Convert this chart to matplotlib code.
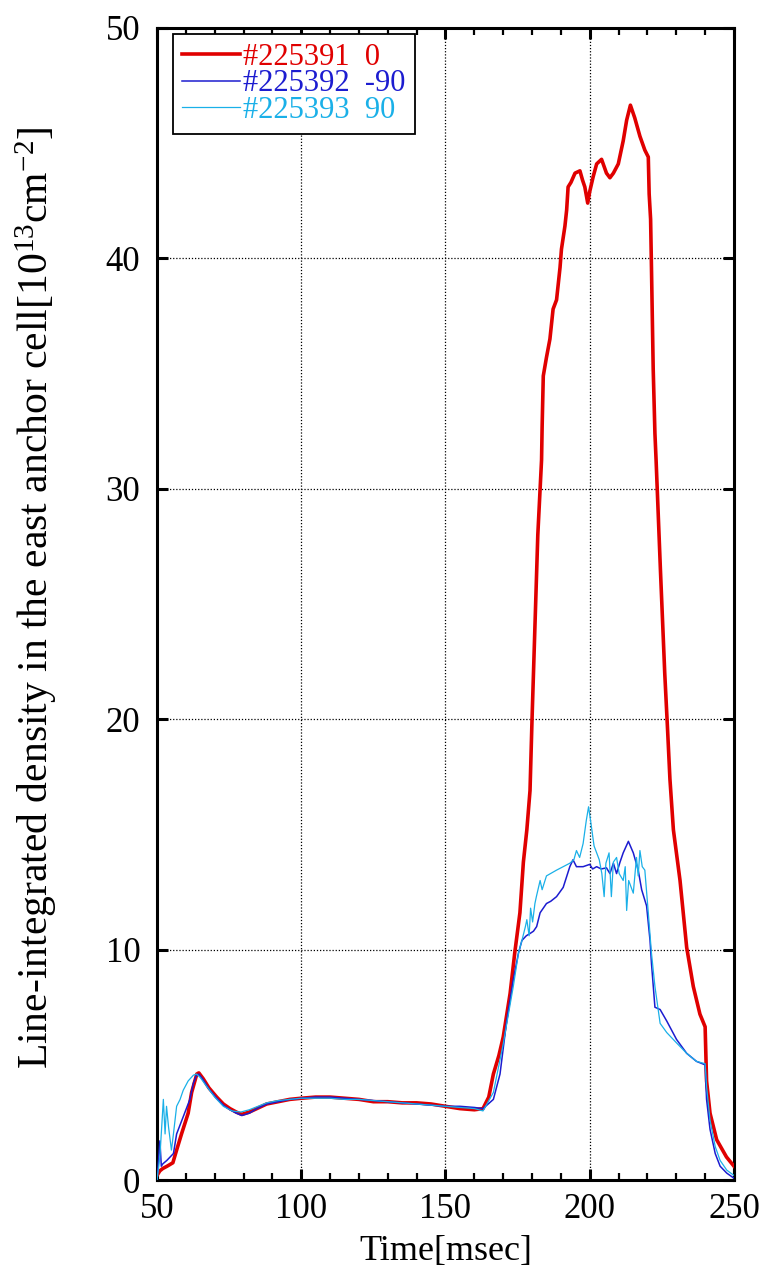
import matplotlib
matplotlib.use("Agg")
import matplotlib.pyplot as plt
from matplotlib.ticker import MultipleLocator

plt.rcParams['font.family'] = ['Liberation Serif', 'DejaVu Serif']
plt.rcParams['mathtext.fontset'] = 'custom'
plt.rcParams['mathtext.rm'] = 'Liberation Serif'
plt.rcParams['mathtext.it'] = 'Liberation Serif:italic'

# shot #225391 (0)
red_t = [50, 51, 52, 53.5, 55.5, 56.8, 58.5, 60.8, 62, 63.8,
         64.5, 66, 68, 70.7, 73, 75.3, 77.5, 79.4, 82, 84.6,
         88, 92, 96, 100, 105, 110, 115, 120, 125, 130,
         135, 140, 145, 150, 155, 160, 163, 165, 166.6, 168.5,
         170, 172.4, 174, 175.8, 177, 178.2, 179.3, 180, 181, 182,
         183.3, 183.5, 183.9, 185, 186.2, 187.3, 188.5, 189.7, 190.2, 191.4,
         192, 192.5, 193.5, 194.9, 196.6, 197.5, 198.3, 199.3, 200, 201.2,
         202.4, 204.1, 205.8, 207, 208.2, 209.9, 211.6, 212.8, 214.1, 215.6,
         217.4, 219.1, 220.3, 220.6, 221.1, 221.4, 222, 222.6, 223, 224.5,
         226, 227, 227.8, 229, 231.3, 233.6, 235.9, 238.2, 240, 240.5,
         241.7, 244, 247.4, 250]
red_v = [0.2, 0.4, 0.5, 0.6, 0.75, 1.3, 2.0, 2.9, 3.8, 4.6,
         4.65, 4.4, 4.0, 3.6, 3.3, 3.1, 2.95, 2.85, 2.95, 3.1,
         3.3, 3.4, 3.5, 3.55, 3.6, 3.6, 3.55, 3.5, 3.4, 3.4,
         3.35, 3.35, 3.3, 3.2, 3.1, 3.05, 3.1, 3.6, 4.6, 5.4,
         6.2, 8.1, 9.85, 11.6, 13.8, 15.2, 16.9, 20, 24, 28,
         31.25, 32.7, 34.9, 35.7, 36.5, 37.8, 38.2, 39.6, 40.4, 41.4,
         42.1, 43.1, 43.3, 43.7, 43.8, 43.4, 43.1, 42.4, 42.9, 43.55,
         44.1, 44.3, 43.7, 43.5, 43.7, 44.1, 45.1, 46.0, 46.65, 46.1,
         45.3, 44.7, 44.4, 42.8, 41.7, 39.6, 35.2, 32.4, 31.25, 26.5,
         22, 19.5, 17.4, 15.2, 13.0, 10.1, 8.4, 7.2, 6.65, 4.3,
         2.9, 1.75, 1.0, 0.6]

# shot #225392 (-90)
blue_t = [50, 50.5, 51, 51.5, 52, 53.4, 55.7, 56.8, 59.1, 61.4,
          62.6, 63.7, 64.5, 66, 68, 70.7, 73, 75.3, 77.5, 79.4,
          82, 84.6, 88, 92, 96, 100, 105, 110, 115, 120,
          125, 130, 135, 140, 145, 150, 155, 160, 163, 166.6,
          168.9, 171.2, 173.5, 175.3, 176.5, 178, 179.3, 180.5, 181.6, 182.8,
          185, 186.5, 188.5, 190.8, 193.1, 194.2, 195.4, 197.7, 200, 201,
          202.4, 204, 205.8, 207, 208.2, 209.3, 210.5, 211.6, 213.4, 215.1,
          216.8, 218, 219.7, 220.9, 221.4, 222.6, 224.4, 226.7, 230.1, 233.6,
          237, 240, 240.5, 241.7, 243.5, 245.2, 247.5, 250]
blue_v = [0, 0.8, 1.7, 0.6, 0.7, 0.85, 1.15, 2.0, 2.75, 3.5,
          4.2, 4.55, 4.6, 4.35, 3.95, 3.55, 3.25, 3.05, 2.9, 2.8,
          2.9, 3.1, 3.3, 3.4, 3.5, 3.55, 3.6, 3.6, 3.55, 3.5,
          3.45, 3.4, 3.35, 3.3, 3.25, 3.2, 3.2, 3.15, 3.1, 3.5,
          4.6, 6.9, 8.7, 9.85, 10.4, 10.6, 10.7, 10.8, 11.0, 11.6,
          12.0, 12.1, 12.3, 12.7, 13.6, 13.9, 13.6, 13.6, 13.7, 13.5,
          13.6, 13.5, 13.55, 13.3, 13.75, 13.3, 13.8, 14.2, 14.7, 14.2,
          13.45, 12.6, 11.9, 10.4, 9.4, 7.5, 7.4, 6.9, 6.1, 5.5,
          5.15, 5.0, 3.5, 2.2, 1.15, 0.6, 0.3, 0.08]

# shot #225393 (90)
cyan_t = [50, 51, 52.2, 52.8, 53.3, 54, 55, 55.7, 56.8, 58,
          59.1, 60.8, 62.6, 63.7, 65, 67, 70, 73, 76, 79,
          82, 85, 88, 92, 96, 100, 105, 110, 115, 120,
          125, 130, 135, 140, 145, 150, 155, 160, 163, 166.6,
          170, 173.5, 175.3, 176.5, 177.7, 178.2, 179, 179.5, 180.2, 181,
          181.5, 182.8, 183.5, 185, 188.5, 190.8, 193.1, 194.5, 195.4, 196.5,
          197.7, 198.8, 199.6, 200.4, 201.5, 203.3, 204.2, 205, 205.6, 206.7,
          207.5, 208.2, 209.3, 210.2, 211.6, 212.3, 212.8, 213.5, 215.1, 216.2,
          216.8, 217.4, 218.2, 219.1, 220.3, 221.4, 222.6, 224.4, 226.7, 230.1,
          233.6, 237, 240, 240.5, 241.7, 243.5, 245.2, 247.5, 250]
cyan_v = [0, 1.0, 3.5, 2.0, 3.2, 2.3, 1.3, 2.0, 3.2, 3.5,
          3.9, 4.3, 4.55, 4.6, 4.45, 4.1, 3.6, 3.2, 3.0, 2.95,
          3.05, 3.2, 3.35, 3.45, 3.5, 3.55, 3.55, 3.55, 3.5, 3.5,
          3.45, 3.4, 3.35, 3.3, 3.25, 3.2, 3.15, 3.1, 3.0, 3.8,
          5.9, 8.4, 9.85, 10.4, 11.0, 11.3, 10.6, 11.8, 11.2, 12.0,
          12.3, 13.0, 12.6, 13.2, 13.45, 13.6, 13.75, 13.9, 14.3, 14.0,
          14.6, 15.6, 16.2, 15.5, 14.5, 13.9, 13.3, 12.3, 13.75, 14.2,
          12.3, 13.8, 14.0, 13.3, 13.0, 13.6, 11.7, 13.0, 12.45, 14.0,
          13.2, 14.3, 13.6, 13.45, 11.6, 9.85, 8.4, 6.8, 6.4, 5.95,
          5.5, 5.15, 5.05, 4.05, 2.6, 1.45, 0.85, 0.43, 0.2]

labels = ["#225391  0", "#225392  -90", "#225393  90"]

fig = plt.figure(figsize=(7.64, 12.72), dpi=100)
ax = fig.add_axes([0.2055, 0.0723, 0.7552, 0.9057])

ax.plot(red_t, red_v, color="#e00000", lw=2.6, label=labels[0], zorder=3)
ax.plot(blue_t, blue_v, color="#1c1cd0", lw=1.1, label=labels[1], zorder=4)
ax.plot(cyan_t, cyan_v, color="#1ab0e8", lw=0.9, label=labels[2], zorder=4)

ax.set_xlim(50, 250)
ax.set_ylim(0, 50)
ax.xaxis.set_major_locator(MultipleLocator(50))
ax.xaxis.set_minor_locator(MultipleLocator(10))
ax.yaxis.set_major_locator(MultipleLocator(10))

ax.grid(True, which="major", color="black", linestyle=(0, (1, 1.5)), linewidth=0.9)
for s in ax.spines.values():
    s.set_linewidth(2.2)
ax.tick_params(which="major", direction="in", top=True, right=True,
               length=8, width=2.2, labelsize=25)
ax.tick_params(axis="x", which="major", pad=9)
ax.tick_params(axis="y", which="major", pad=12)
ax.tick_params(which="minor", direction="in", top=True, right=False,
               length=5, width=1.6)

ax.set_xlabel("Time[msec]", fontsize=26, labelpad=7)
ax.set_ylabel(r"Line-integrated density in the east anchor cell[10$^{13}$cm$^{-2}$]",
              fontsize=30)
ax.yaxis.set_label_coords(-0.17, 0.505)

leg = ax.legend(loc="upper left", bbox_to_anchor=(0.028, 0.995), borderaxespad=0,
                fontsize=22, fancybox=False, edgecolor="black", framealpha=1,
                handlelength=1.9, handletextpad=0.1, labelspacing=-0.08,
                borderpad=0.3, labelcolor="linecolor")
leg.get_frame().set_linewidth(1.3)

fig.savefig("out.png", dpi=100)
